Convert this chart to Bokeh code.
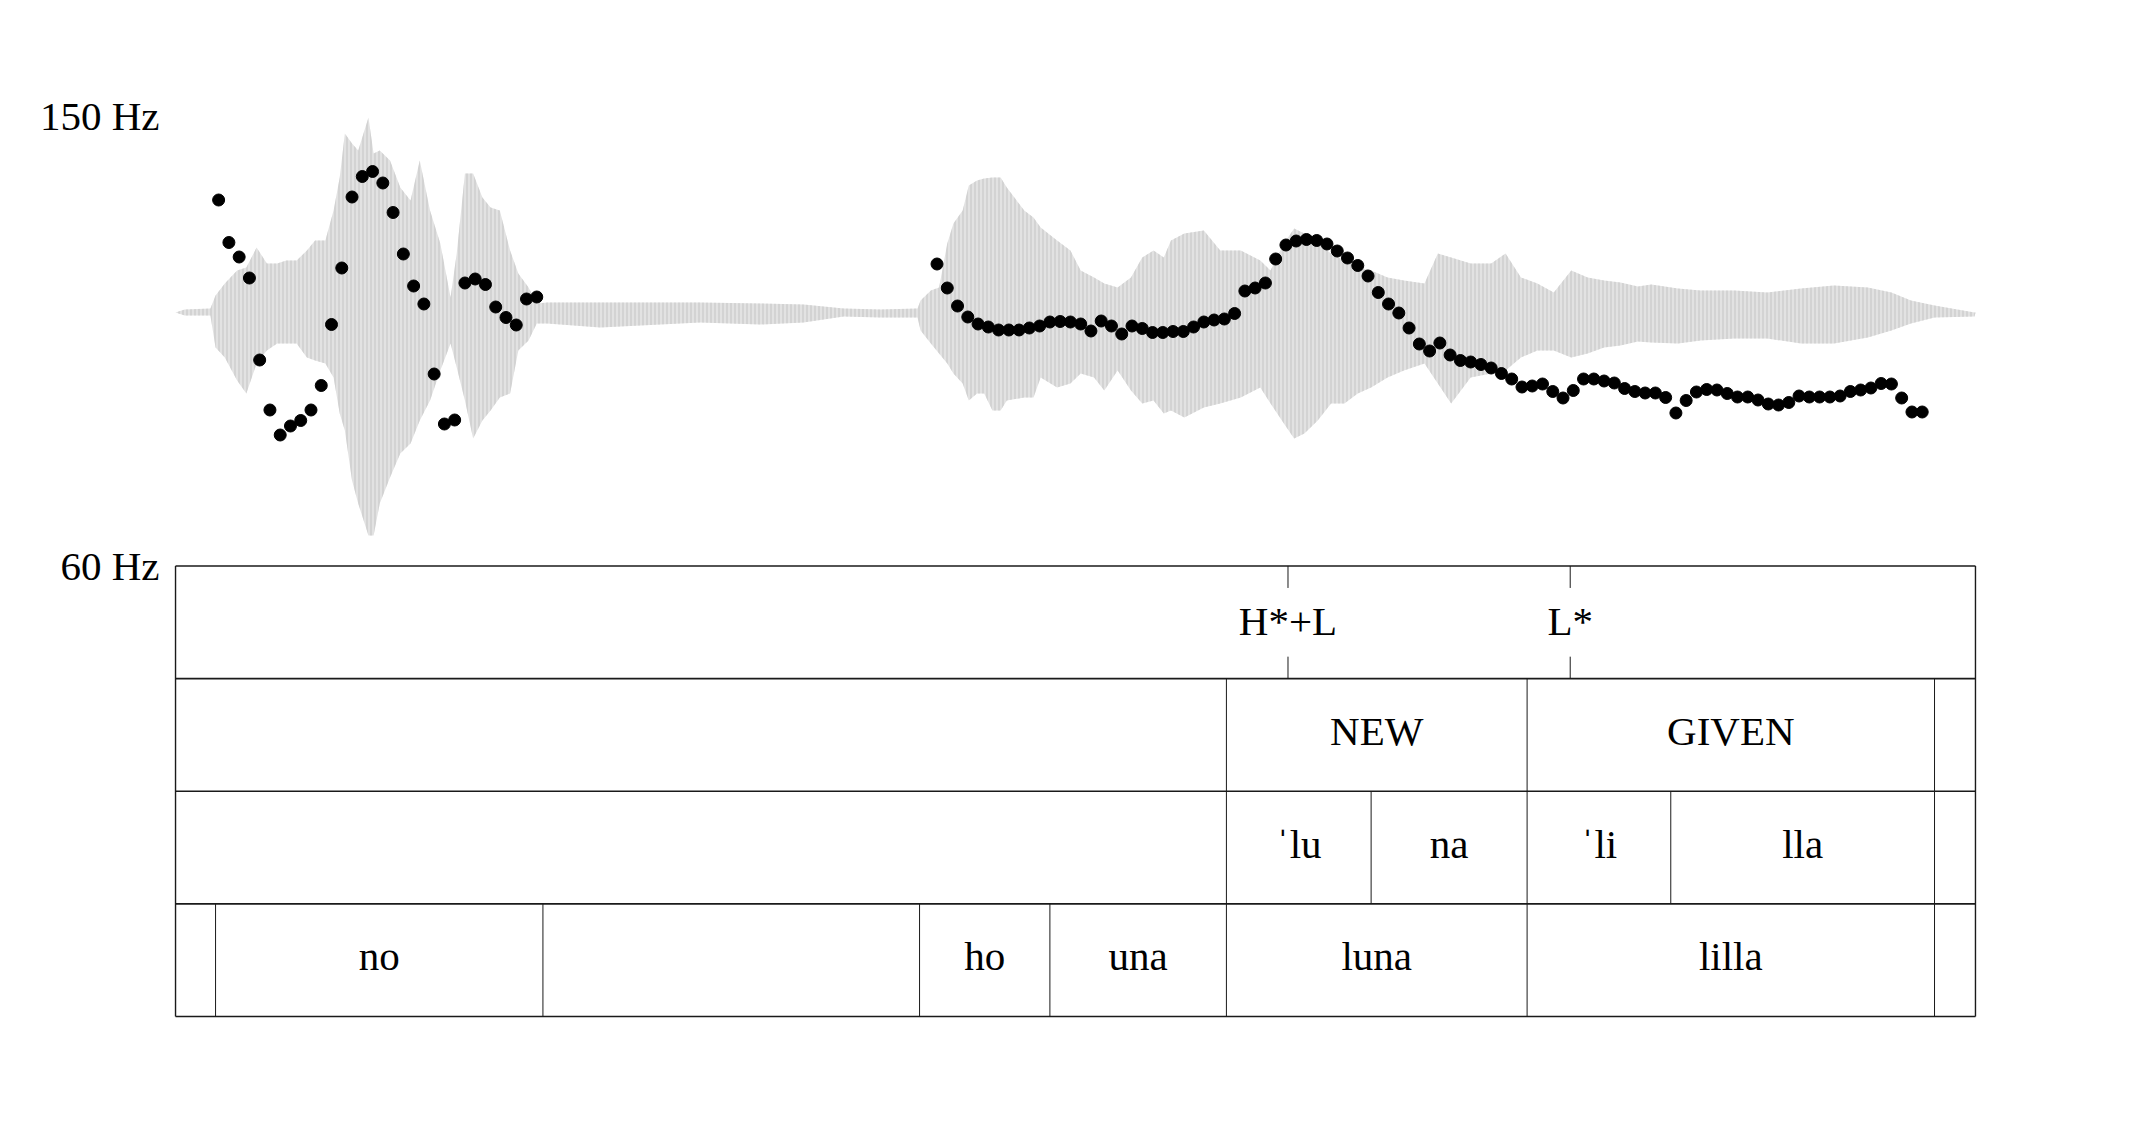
from bokeh.plotting import figure
from bokeh.models import Range1d, FixedTicker
from bokeh.core.properties import value
from bokeh.embed import file_html
from bokeh.resources import INLINE

DURATION = 1.7539  # s

# ---- F0 (Hz), two voiced stretches, 10 ms frames ----
f0_times_1 = [0.042, 0.052, 0.062, 0.072, 0.082, 0.092, 0.102, 0.112, 0.122, 0.132,
              0.142, 0.152, 0.162, 0.172, 0.182, 0.192, 0.202, 0.212, 0.222, 0.232,
              0.242, 0.252, 0.262, 0.272, 0.282, 0.292, 0.302, 0.312, 0.322, 0.332,
              0.342, 0.352]
f0_hz_1 = [133.1, 124.6, 121.7, 117.5, 101.1, 91.1, 86.1, 87.9, 89.0, 91.1,
           96.0, 108.2, 119.5, 133.7, 137.8, 138.8, 136.5, 130.6, 122.3, 115.9,
           112.3, 98.3, 88.3, 89.1, 116.5, 117.3, 116.2, 111.7, 109.6, 108.1,
           113.3, 113.7]

f0_times_2 = [0.742, 0.752, 0.762, 0.772, 0.782, 0.792, 0.802, 0.812, 0.822, 0.832,
              0.842, 0.852, 0.862, 0.872, 0.882, 0.892, 0.902, 0.912, 0.922, 0.932,
              0.942, 0.952, 0.962, 0.972, 0.982, 0.992, 1.002, 1.012, 1.022, 1.032,
              1.042, 1.052, 1.062, 1.072, 1.082, 1.092, 1.102, 1.112, 1.122, 1.132,
              1.142, 1.152, 1.162, 1.172, 1.182, 1.192, 1.202, 1.212, 1.222, 1.232,
              1.242, 1.252, 1.262, 1.272, 1.282, 1.292, 1.302, 1.312, 1.322, 1.332,
              1.342, 1.352, 1.362, 1.372, 1.382, 1.392, 1.402, 1.412, 1.422, 1.432,
              1.442, 1.452, 1.462, 1.472, 1.482, 1.492, 1.502, 1.512, 1.522, 1.532,
              1.542, 1.552, 1.562, 1.572, 1.582, 1.592, 1.602, 1.612, 1.622, 1.632,
              1.642, 1.652, 1.662, 1.672, 1.682, 1.692, 1.702]
f0_hz_2 = [120.3, 115.5, 111.9, 109.7, 108.3, 107.7, 107.1, 107.1, 107.1, 107.5,
           107.9, 108.7, 108.8, 108.7, 108.3, 106.9, 108.9, 107.9, 106.3, 107.9,
           107.4, 106.6, 106.6, 106.8, 106.8, 107.7, 108.7, 109.1, 109.3, 110.4,
           114.9, 115.5, 116.5, 121.3, 124.1, 124.9, 125.2, 125.0, 124.3, 122.9,
           121.5, 120.0, 117.9, 114.6, 112.3, 110.5, 107.5, 104.3, 102.9, 104.5,
           102.1, 101.0, 100.7, 100.2, 99.5, 98.4, 97.3, 95.7, 95.9, 96.3,
           94.8, 93.5, 95.0, 97.3, 97.3, 96.9, 96.5, 95.4, 94.8, 94.5,
           94.5, 93.6, 90.5, 93.0, 94.7, 95.2, 95.1, 94.4, 93.7, 93.7,
           93.1, 92.3, 92.1, 92.6, 93.9, 93.7, 93.7, 93.7, 93.9, 94.8,
           95.1, 95.5, 96.4, 96.3, 93.5, 90.7, 90.7]

# ---- Oscillogram envelope (arbitrary amplitude units) ----
wave_t = [0.000, 0.009, 0.034, 0.039, 0.048, 0.060, 0.069, 0.079, 0.089, 0.099,
          0.108, 0.118, 0.128, 0.136, 0.146, 0.154, 0.160, 0.165, 0.172, 0.178,
          0.188, 0.193, 0.199, 0.209, 0.219, 0.229, 0.238, 0.248, 0.258, 0.268,
          0.274, 0.282, 0.290, 0.299, 0.307, 0.316, 0.326, 0.334, 0.344, 0.352,
          0.362, 0.414, 0.511, 0.570, 0.612, 0.651, 0.687, 0.723, 0.726, 0.736,
          0.744, 0.752, 0.758, 0.767, 0.773, 0.781, 0.788, 0.796, 0.804, 0.810,
          0.827, 0.836, 0.843, 0.859, 0.872, 0.882, 0.895, 0.905, 0.918, 0.931,
          0.942, 0.953, 0.963, 0.970, 0.983, 1.002, 1.018, 1.038, 1.057, 1.067,
          1.080, 1.090, 1.100, 1.113, 1.126, 1.139, 1.152, 1.165, 1.181, 1.197,
          1.217, 1.230, 1.243, 1.262, 1.282, 1.296, 1.311, 1.327, 1.343, 1.360,
          1.376, 1.392, 1.408, 1.425, 1.438, 1.464, 1.486, 1.519, 1.551, 1.584,
          1.616, 1.649, 1.672, 1.691, 1.714, 1.753, 1.754]
wave_max = [0, 3, 4, 17, 29, 42, 45, 65, 49, 49, 52, 52, 62, 72, 72, 102, 135, 179, 169, 162,
            195, 159, 162, 152, 125, 112, 152, 102, 69, 15, 59, 139, 139, 115, 105, 102, 62, 39, 25, 9,
            10, 10, 10, 9, 8, 4, 3, 4, 12, 22, 25, 69, 89, 102, 127, 132, 134, 135, 135, 125,
            102, 95, 85, 72, 62, 42, 35, 29, 25, 35, 55, 62, 55, 72, 79, 82, 62, 62, 52, 42,
            69, 84, 79, 69, 59, 52, 45, 42, 35, 32, 29, 59, 55, 49, 49, 59, 35, 29, 20, 42,
            35, 32, 30, 26, 28, 24, 22, 22, 20, 24, 27, 25, 20, 12, 7, 0, 0]
wave_min = [0, -3, -3, -35, -45, -68, -81, -51, -38, -31, -31, -31, -45, -48, -51, -65, -101, -118, -168, -191,
            -223, -223, -191, -165, -141, -131, -108, -88, -58, -31, -55, -88, -126, -108, -98, -85, -81, -38, -28, -11,
            -11, -15, -10, -12, -10, -4, -5, -5, -18, -31, -41, -51, -61, -71, -88, -81, -81, -98, -98, -88,
            -85, -85, -65, -75, -71, -61, -65, -78, -58, -78, -91, -88, -101, -98, -105, -95, -91, -85, -75, -91,
            -111, -126, -121, -108, -91, -91, -81, -75, -65, -58, -51, -71, -91, -65, -61, -58, -45, -38, -38, -45,
            -41, -35, -33, -29, -30, -31, -28, -26, -26, -31, -31, -25, -18, -11, -5, -4, 0]

# ---- Annotation tiers ----
tone_times = [1.084, 1.359]
tone_labels = ["H*+L", "L*"]

info_bounds = [0.0, 1.024, 1.317, 1.714, DURATION]
info_labels = ["", "NEW", "GIVEN", ""]

syll_bounds = [0.0, 1.024, 1.165, 1.317, 1.457, 1.714, DURATION]
syll_labels = ["", "\u02c8lu", "na", "\u02c8li", "lla", ""]

word_bounds = [0.0, 0.039, 0.358, 0.725, 0.852, 1.024, 1.317, 1.714, DURATION]
word_labels = ["", "no", "", "ho", "una", "luna", "lilla", ""]

y_ticks = [60, 150]
y_tick_labels = {60: "60 Hz", 150: "150 Hz"}

FONT = "Liberation Serif"
FSIZE = "41px"
LINE = "#1a1a1a"
TXT_Y = 0.536   # label position inside an interval tier (fraction of tier height)
TONE_Y = 0.512  # label position inside the tone tier

pad = 0.0049
p = figure(width=2150, height=1133, output_backend="svg", toolbar_location=None,
           x_range=Range1d(-pad, DURATION + pad), y_range=Range1d(-31.2, 150),
           x_axis_location=None, min_border_left=170, min_border_right=170,
           min_border_top=115, min_border_bottom=112)
p.extra_y_ranges = {"wave": Range1d(-709, 197), "tier": Range1d(-0.0444, 8.0)}
p.outline_line_color = None
p.grid.visible = False
p.background_fill_color = "white"
p.border_fill_color = "white"

ax = p.yaxis[0]
ax.ticker = FixedTicker(ticks=y_ticks)
ax.major_label_overrides = y_tick_labels
ax.axis_line_color = None
ax.major_tick_line_color = None
ax.minor_tick_line_color = None
ax.major_tick_out = 0
ax.major_tick_in = 0
ax.major_label_standoff = 11
ax.major_label_text_font = FONT
ax.major_label_text_font_size = FSIZE
ax.major_label_text_color = "black"

# oscillogram
p.varea(x=wave_t, y1=wave_min, y2=wave_max, y_range_name="wave",
        fill_color="#e2e2e2", hatch_pattern="|", hatch_color="#c4c4c4",
        hatch_scale=4, hatch_weight=1)

# F0
p.scatter(f0_times_1, f0_hz_1, size=12, color="black")
p.scatter(f0_times_2, f0_hz_2, size=12, color="black")

# tier grid
tiers = [
    (2, info_bounds, info_labels),
    (1, syll_bounds, syll_labels),
    (0, word_bounds, word_labels),
]
p.segment(x0=[0.0] * 5, x1=[DURATION] * 5, y0=[0, 1, 2, 3, 4], y1=[0, 1, 2, 3, 4],
          y_range_name="tier", line_color=LINE, line_width=1.6)
p.segment(x0=[0.0, DURATION], x1=[0.0, DURATION], y0=[0, 0], y1=[4, 4],
          y_range_name="tier", line_color=LINE, line_width=1.4)

for base, bounds, labels in tiers:
    inner = bounds[1:-1]
    p.segment(x0=inner, x1=inner, y0=[base] * len(inner), y1=[base + 1] * len(inner),
              y_range_name="tier", line_color=LINE, line_width=1.0)
    xs = [(bounds[i] + bounds[i + 1]) / 2 for i in range(len(labels)) if labels[i]]
    ts = [labels[i] for i in range(len(labels)) if labels[i]]
    p.text(x=xs, y=[base + TXT_Y] * len(xs), text=ts, y_range_name="tier",
           text_font=value(FONT), text_font_size=value(FSIZE), text_color="black",
           text_align="center", text_baseline="middle")

# tone tier: point marks
tick_len = 0.195
p.segment(x0=tone_times, x1=tone_times, y0=[4] * 2, y1=[4 - tick_len] * 2,
          y_range_name="tier", line_color=LINE, line_width=1.0)
p.segment(x0=tone_times, x1=tone_times, y0=[3] * 2, y1=[3 + tick_len] * 2,
          y_range_name="tier", line_color=LINE, line_width=1.0)
p.text(x=tone_times, y=[3 + TONE_Y] * 2, text=tone_labels, y_range_name="tier",
       text_font=value(FONT), text_font_size=value(FSIZE), text_color="black",
       text_align="center", text_baseline="middle")

open("out.html", "w").write(file_html(p, INLINE))
